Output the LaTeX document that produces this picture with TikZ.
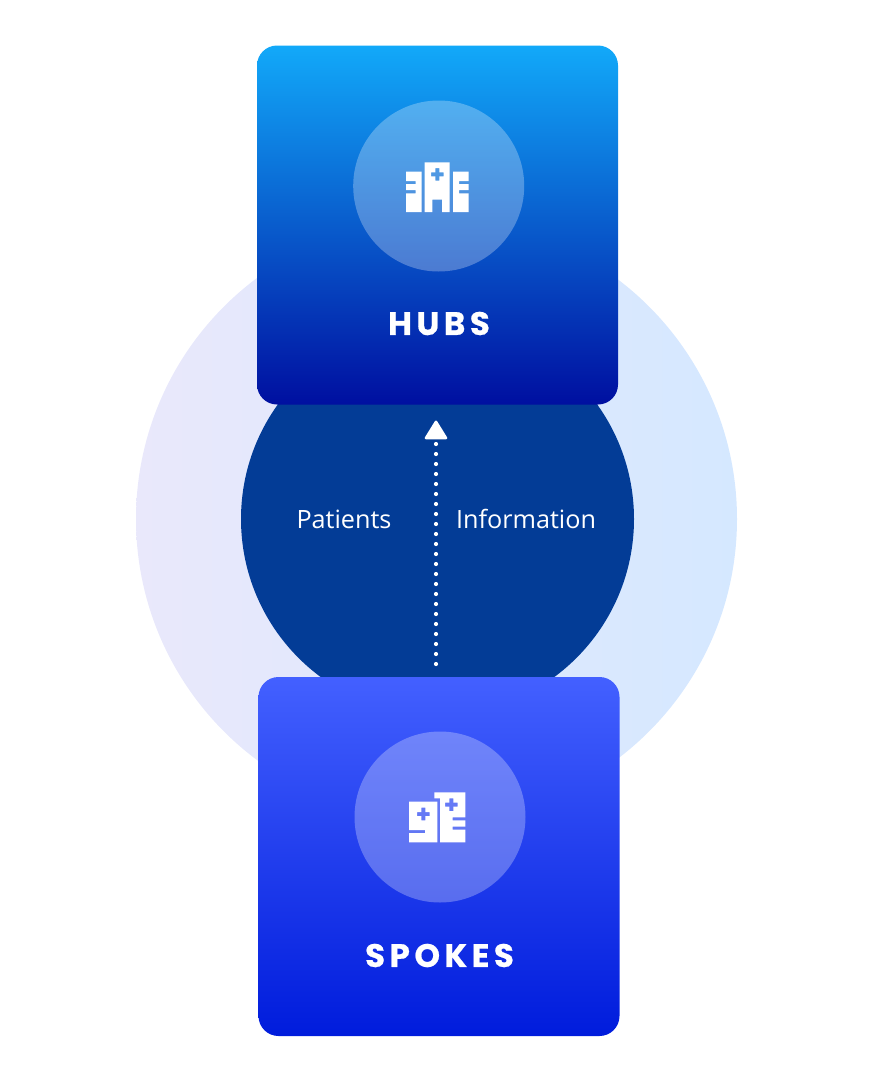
\documentclass[tikz,border=0pt]{standalone}
\usepackage{fontspec}
\usetikzlibrary{arrows.meta}
\setmainfont{Open Sans}
\newfontfamily\headfont[LetterSpace=14,FakeBold=0.6]{Poppins Bold}
\definecolor{haloL}{HTML}{E9E8FB}
\definecolor{haloR}{HTML}{D5E8FF}
\definecolor{core}{HTML}{033C96}
\definecolor{hubT}{HTML}{12A9F9}
\definecolor{hubB}{HTML}{000FA0}
\definecolor{spokeT}{HTML}{4360FF}
\definecolor{spokeB}{HTML}{001CDC}
\tikzset{
  cardbox/.style={rectangle,rounded corners=20pt,minimum width=361pt,minimum height=359pt,inner sep=0pt},
  badge/.style={circle,fill=white,fill opacity=.28,minimum size=171pt,inner sep=0pt},
  cardtitle/.style={text=white,inner sep=0pt,font=\headfont\fontsize{32.5}{38}\selectfont},
  flowlabel/.style={text=white,inner sep=0pt,font=\fontsize{25.2}{32}\selectfont},
  icon/.style={fill=white,even odd rule}
}
\begin{document}
\begin{tikzpicture}[x=1pt,y=-1pt]
\useasboundingbox (0,0) rectangle (872,1082);
\node[circle,minimum size=601pt,inner sep=0pt,left color=haloL,right color=haloR] (halo) at (436.5,519) {};
\node[circle,minimum size=393pt,inner sep=0pt,fill=core] (coreC) at (437.5,519) {};
\node[cardbox,top color=hubT,bottom color=hubB] (hub) at (437.5,225) {};
\node[cardbox,top color=spokeT,bottom color=spokeB] (spoke) at (439,856.5) {};
\node[badge] (hubBadge) at (438.7,186) {};
\node[badge] (spokeBadge) at (440,817) {};
\node[cardtitle] (hubText) at (439,323.5) {HUBS};
\node[cardtitle] (spokeText) at (439.5,955.5) {SPOKES};
\node[flowlabel] (patients) at (344,519) {Patients};
\node[flowlabel] (info) at (526,519) {Information};
\coordinate (flowStart) at (436,664);
\coordinate (flowEnd) at (436,420.5);
\draw[white,line width=4.2pt,line cap=round,dash pattern=on 0pt off 10pt,
  -{Triangle[round,length=20pt,width=24pt,line width=2.5pt]}] (flowStart) -- (flowEnd);
% hub icon
\path[icon]
 (406,171.7) -- (421.7,171.7) -- (421.7,212) -- (406,212) -- (406,193.3) -- (415.7,193.3) -- (415.7,190) -- (406,190) -- (406,184) -- (415.7,184) -- (415.7,181) -- (406,181) -- cycle
 (468.7,171.7) -- (453,171.7) -- (453,212) -- (468.7,212) -- (468.7,193.3) -- (459,193.3) -- (459,190) -- (468.7,190) -- (468.7,184) -- (459,184) -- (459,181) -- (468.7,181) -- cycle
 (424.7,162.3) -- (449.7,162.3) -- (449.7,212) -- (442,212) -- (442,199.7) -- (432.3,199.7) -- (432.3,212) -- (424.7,212) -- cycle
 (435.3,168) -- (439.3,168) -- (439.3,172.3) -- (443.6,172.3) -- (443.6,176.3) -- (439.3,176.3) -- (439.3,180.6) -- (435.3,180.6) -- (435.3,176.3) -- (431,176.3) -- (431,172.3) -- (435.3,172.3) -- cycle;
% spoke icon
\path[icon]
 (409,801.7) -- (437.3,801.7) -- (437.3,842.3) -- (409,842.3) -- (409,833) -- (425,833) -- (425,830) -- (409,830) -- cycle
 (421.3,807.7) -- (425.3,807.7) -- (425.3,812) -- (429.6,812) -- (429.6,816) -- (425.3,816) -- (425.3,820.3) -- (421.3,820.3) -- (421.3,816) -- (417,816) -- (417,812) -- (421.3,812) -- cycle
 (434.3,792.3) -- (465.3,792.3) -- (465.3,817.3) -- (452.7,817.3) -- (452.7,820.3) -- (465.3,820.3) -- (465.3,826.7) -- (452.7,826.7) -- (452.7,829.7) -- (465.3,829.7) -- (465.3,842.3) -- (440,842.3) -- (440,798.3) -- (434.3,798.3) -- cycle
 (449.3,798.4) -- (453.3,798.4) -- (453.3,802.7) -- (457.6,802.7) -- (457.6,806.7) -- (453.3,806.7) -- (453.3,811) -- (449.3,811) -- (449.3,806.7) -- (445,806.7) -- (445,802.7) -- (449.3,802.7) -- cycle;
\end{tikzpicture}
\end{document}
